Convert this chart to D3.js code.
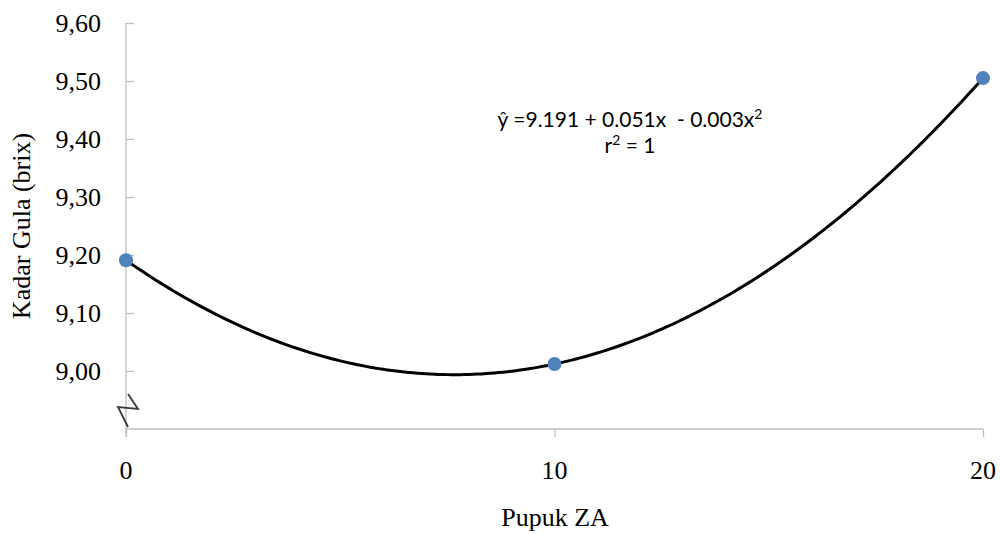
<!DOCTYPE html>
<html>
<head>
<meta charset="utf-8">
<script src="https://cdn.jsdelivr.net/npm/d3@7"></script>
<style>
  body { margin: 0; background: #fff; }
</style>
</head>
<body>
<div id="chart"></div>
<script>
// data
var doses = [0, 10, 20];
var brix = [9.191, 9.012, 9.505];
var yTicks = [9.0, 9.1, 9.2, 9.3, 9.4, 9.5, 9.6];
var xTicks = [0, 10, 20];

var w = 1000, h = 535;

var svg = d3.select("#chart").append("svg")
  .attr("width", w)
  .attr("height", h);

var x = d3.scaleLinear().domain([0, 20]).range([126, 983]);
var y = d3.scaleLinear().domain([8.9, 9.6]).range([429, 23]);

var axisColor = "#bfbfbf";
var serif = "Liberation Serif, Times New Roman, serif";

// y axis
var yAxis = svg.append("g")
  .attr("transform", "translate(" + x(0) + ",0)")
  .call(d3.axisRight(y).tickValues(yTicks).tickSize(8).tickFormat(""));
yAxis.select(".domain").attr("d", "M0," + y(9.6) + "V" + (y(8.9) + 8));
yAxis.selectAll("line, path").attr("stroke", axisColor).attr("stroke-width", 1.3);

svg.append("g").selectAll("text")
  .data(yTicks)
  .enter()
  .append("text")
  .attr("x", 101)
  .attr("y", d => y(d))
  .attr("dy", "0.35em")
  .attr("text-anchor", "end")
  .style("font-family", serif)
  .style("font-size", "26px")
  .text(d => d3.format(".2f")(d).replace(".", ","));

// x axis
var xAxis = svg.append("g")
  .attr("transform", "translate(0," + y(8.9) + ")")
  .call(d3.axisBottom(x).tickValues(xTicks).tickSize(8).tickFormat(""));
xAxis.select(".domain").attr("d", "M" + x(0) + ",0H" + x(20));
xAxis.selectAll("line, path").attr("stroke", axisColor).attr("stroke-width", 1.3);

svg.append("g").selectAll("text")
  .data(xTicks)
  .enter()
  .append("text")
  .attr("x", d => x(d))
  .attr("y", 479)
  .attr("text-anchor", "middle")
  .style("font-family", serif)
  .style("font-size", "26px")
  .text(d => d);

// axis break mark
svg.append("path")
  .attr("d", "M128,394 L138,409 L118,407 L128,427")
  .attr("fill", "none")
  .attr("stroke", "#3a3a3a")
  .attr("stroke-width", 1.8);

// quadratic trend line fitted through the three points
var a = brix[0];
var c = ((brix[2] - a) - 2 * (brix[1] - a)) / (2 * 100);
var b = ((brix[1] - a) - 100 * c) / 10;
var curve = d3.range(0, 20.01, 0.1).map(v => [v, a + b * v + c * v * v]);

svg.append("path")
  .datum(curve)
  .attr("d", d3.line().x(d => x(d[0])).y(d => y(d[1])))
  .attr("fill", "none")
  .attr("stroke", "#000")
  .attr("stroke-width", 3);

svg.append("g").selectAll("circle")
  .data(doses)
  .enter()
  .append("circle")
  .attr("cx", d => x(d))
  .attr("cy", (d, i) => y(brix[i]))
  .attr("r", 7)
  .attr("fill", "#4f81bd");

// equation
var eq = svg.append("text")
  .attr("x", 630)
  .attr("y", 127)
  .attr("text-anchor", "middle")
  .style("white-space", "pre")
  .style("font-family", "Lato, Open Sans, sans-serif")
  .style("font-size", "21px");
eq.append("tspan").text("ŷ =9.191 + 0.051x  - 0.003x");
eq.append("tspan").attr("dy", -8).style("font-size", "14px").text("2");

var r2 = svg.append("text")
  .attr("x", 630)
  .attr("y", 153)
  .attr("text-anchor", "middle")
  .style("white-space", "pre")
  .style("font-family", "Lato, Open Sans, sans-serif")
  .style("font-size", "21px");
r2.append("tspan").text("r");
r2.append("tspan").attr("dy", -8).style("font-size", "14px").text("2");
r2.append("tspan").attr("dy", 8).text(" = 1");

// axis titles
svg.append("text")
  .attr("x", 555)
  .attr("y", 526)
  .attr("text-anchor", "middle")
  .style("font-family", serif)
  .style("font-size", "26px")
  .text("Pupuk ZA");

svg.append("text")
  .attr("transform", "translate(30,226) rotate(-90)")
  .attr("text-anchor", "middle")
  .style("font-family", serif)
  .style("font-size", "26px")
  .text("Kadar Gula (brix)");
</script>
</body>
</html>
